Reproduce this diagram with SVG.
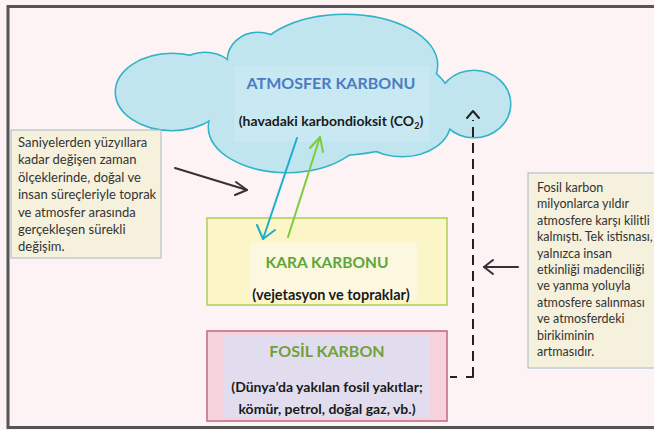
<svg xmlns="http://www.w3.org/2000/svg" width="654" height="430" viewBox="0 0 654 430">
<defs>
<style>
.t{font-family:Lato,"Liberation Sans",sans-serif;}
.b{font-weight:bold;}
.note{font-family:Lato,"Liberation Sans",sans-serif;fill:#333;}
.ce{stroke:#2fb3c6;stroke-width:3;fill:none;}
.cf{fill:#c0e5ef;}
.ar{fill:none;stroke-width:2;stroke-linecap:round;stroke-linejoin:round;}
</style>
</defs>
<rect x="0" y="0" width="654" height="430" fill="#fdf3f5"/>
<rect x="8" y="6.5" width="660" height="421" fill="#fdf3f5" stroke="#555" stroke-width="3"/>

<g id="cloud">
<g class="ce">
<ellipse cx="172" cy="92" rx="56" ry="38"/>
<ellipse cx="205" cy="75" rx="30" ry="22"/>
<ellipse cx="258" cy="60" rx="30" ry="27"/>
<ellipse cx="345" cy="65" rx="92" ry="50"/>
<ellipse cx="474" cy="104" rx="36" ry="33"/>
<ellipse cx="402" cy="122" rx="48" ry="34"/>
<ellipse cx="287" cy="127" rx="78" ry="45"/>
<ellipse cx="330" cy="100" rx="120" ry="55"/>
</g>
<g class="cf">
<ellipse cx="172" cy="92" rx="56" ry="38"/>
<ellipse cx="205" cy="75" rx="30" ry="22"/>
<ellipse cx="258" cy="60" rx="30" ry="27"/>
<ellipse cx="345" cy="65" rx="92" ry="50"/>
<ellipse cx="474" cy="104" rx="36" ry="33"/>
<ellipse cx="402" cy="122" rx="48" ry="34"/>
<ellipse cx="287" cy="127" rx="78" ry="45"/>
<ellipse cx="330" cy="100" rx="120" ry="55"/>
</g>
<rect x="234" y="66" width="196" height="76" fill="#c9e9f2"/>
<text class="t b" x="331" y="89" font-size="16" fill="#4a7cc4" text-anchor="middle">ATMOSFER KARBONU</text>
<text class="t b" x="331" y="126" font-size="14" fill="#1a1a1a" text-anchor="middle">(havadaki karbondioksit (CO<tspan font-size="9" dy="3">2</tspan><tspan dy="-3">)</tspan></text>
</g>

<g id="kara">
<rect x="207" y="218" width="240" height="87" fill="#fbf5c8" stroke="#a9cf58" stroke-width="1.5"/>
<rect x="250" y="243" width="167" height="57" fill="#fbf8df"/>
<text class="t b" x="327" y="268" font-size="15.5" fill="#5ea63a" text-anchor="middle">KARA KARBONU</text>
<text class="t b" x="331" y="300" font-size="14.5" fill="#1a1a1a" text-anchor="middle">(vejetasyon ve topraklar)</text>
</g>

<g id="fosil">
<rect x="207" y="331" width="240" height="90" fill="#f6d2dc" stroke="#c06a80" stroke-width="1.5"/>
<rect x="223" y="335" width="207" height="82" fill="#e2ddee"/>
<text class="t b" x="327" y="357" font-size="16" fill="#72a03a" text-anchor="middle">FOSİL KARBON</text>
<text class="t b" x="327" y="392" font-size="14" fill="#1a1a1a" text-anchor="middle">(Dünya’da yakılan fosil yakıtlar;</text>
<text class="t b" x="327" y="414" font-size="14" fill="#1a1a1a" text-anchor="middle">kömür, petrol, doğal gaz, vb.)</text>
</g>

<g id="note-left">
<rect x="11" y="130" width="150" height="128" fill="#f5f1dc" stroke="#a9b8c8" stroke-width="1"/>
<text class="note" font-size="13"><tspan x="18" y="147">Saniyelerden yüzyıllara</tspan><tspan x="18" y="164.4">kadar değişen zaman</tspan><tspan x="18" y="181.8">ölçeklerinde, doğal ve</tspan><tspan x="18" y="199.2">insan süreçleriyle toprak</tspan><tspan x="18" y="216.6">ve atmosfer arasında</tspan><tspan x="18" y="234">gerçekleşen sürekli</tspan><tspan x="18" y="251.4">değişim.</tspan></text>
</g>

<g id="note-right">
<rect x="528" y="173" width="140" height="195" fill="#f5f1dc" stroke="#a9b8c8" stroke-width="1"/>
<text class="note" font-size="12.5"><tspan x="537" y="192">Fosil karbon</tspan><tspan x="537" y="208.4">milyonlarca yıldır</tspan><tspan x="537" y="224.8">atmosfere karşı kilitli</tspan><tspan x="537" y="241.2">kalmıştı. Tek istisnası,</tspan><tspan x="537" y="257.6">yalnızca insan</tspan><tspan x="537" y="274">etkinliği madenciliği</tspan><tspan x="537" y="290.4">ve yanma yoluyla</tspan><tspan x="537" y="306.8">atmosfere salınması</tspan><tspan x="537" y="323.2">ve atmosferdeki</tspan><tspan x="537" y="339.6">birikiminin</tspan><tspan x="537" y="356">artmasıdır.</tspan></text>
</g>

<g id="connectors">
<g class="ar" stroke="#333">
<line x1="175" y1="168" x2="247" y2="190"/>
<polyline points="236,182 247,190 235,195"/>
<line x1="518" y1="267" x2="484" y2="267"/>
<polyline points="493,260 484,267 493,274"/>
</g>
<g class="ar" stroke="#1ab0c8">
<line x1="297" y1="138" x2="263" y2="239"/>
<polyline points="257,225 263,239 275,230"/>
</g>
<g class="ar" stroke="#7dcc3c">
<line x1="288" y1="237" x2="320" y2="137"/>
<polyline points="310,148 320,137 323,152"/>
</g>
<g class="ar" stroke="#222">
<line x1="473" y1="377" x2="473" y2="120" stroke-dasharray="10 6" stroke-linecap="butt"/>
<polyline points="467,118 473,111 479,118"/>
<polyline points="466,377 473,377 473,370" stroke-linecap="butt"/>
<line x1="450" y1="377" x2="457" y2="377" stroke-linecap="butt"/>
</g>
</g>
</svg>
